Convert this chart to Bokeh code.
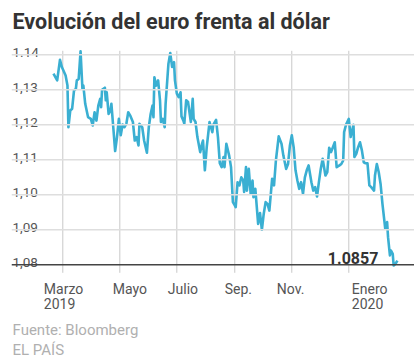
import numpy as np
import pandas as pd
from bokeh.plotting import figure
from bokeh.models import Range1d, Span
from bokeh.core.properties import value
from bokeh.embed import file_html
from bokeh.resources import INLINE

# ---------------- data ----------------
chart_title = "Evolución del euro frenta al dólar"
source_note = "Fuente: Bloomberg"
publisher = "EL PAÍS"
last_value_label = "1.0857"

base_date = "2019-03-01"
# days since 1 March 2019
day_offsets = [
    -10, -6, -3, -1, 3, 5, 6, 8, 10, 12, 14, 15, 17, 19, 21, 22, 24, 27, 30, 32,
    34, 36, 38, 40, 41, 42, 45, 46, 47, 49, 51, 52, 54, 56, 58, 60, 62, 64, 66, 68,
    70, 72, 75, 77, 79, 81, 82, 85, 87, 90, 92, 94, 96, 97, 98, 100, 102, 104, 105, 107,
    109, 110, 113, 115, 117, 119, 120, 122, 124, 126, 127, 129, 130, 132, 134, 137, 139, 140, 142, 144,
    147, 149, 150, 152, 154, 157,
    160, 161, 164, 166, 168, 170, 172, 173, 175, 178, 180, 182, 184, 185, 187, 189, 191, 193, 194, 196,
    197, 199, 201, 203, 204, 206, 209, 211, 213, 215, 217, 219, 221, 224, 226, 228, 231, 234, 236, 239,
    241, 243, 245, 247, 249, 251, 253, 255, 257, 259, 261, 263, 266, 268, 270, 272, 274, 276, 278, 281,
    283, 285, 287, 289, 291, 293, 296, 298, 300, 301, 303, 306, 308, 311, 312, 314, 316, 318, 320, 322,
    324, 326, 328, 330, 333, 334, 336, 338, 340, 342, 344, 345, 347, 348, 350, 351, 353, 354, 356, 358,
]
eur_usd = [
    1.1346, 1.1327, 1.1386, 1.1365, 1.1341, 1.1312, 1.1193, 1.1241, 1.1246, 1.1298,
    1.1303, 1.1327, 1.1331, 1.1410, 1.1303, 1.1312, 1.1260, 1.1222, 1.1217, 1.1198,
    1.1236, 1.1212, 1.1255, 1.1274, 1.1250, 1.1300, 1.1306, 1.1270, 1.1293, 1.1231,
    1.1241, 1.1260, 1.1193, 1.1125, 1.1165, 1.1217, 1.1170, 1.1201, 1.1193, 1.1203,
    1.1236, 1.1227, 1.1208, 1.1155, 1.1165, 1.1141, 1.1203, 1.1193, 1.1155, 1.1120,
    1.1193, 1.1231, 1.1255, 1.1222, 1.1336, 1.1312, 1.1327, 1.1270, 1.1208, 1.1217,
    1.1193, 1.1260, 1.1374, 1.1405, 1.1365, 1.1379, 1.1327, 1.1289, 1.1279, 1.1293,
    1.1224, 1.1212, 1.1203, 1.1270, 1.1265, 1.1208, 1.1274, 1.1217, 1.1208, 1.1165,
    1.1122, 1.1146, 1.1155, 1.1070, 1.1136, 1.1208,
    1.1179, 1.1200, 1.1214, 1.1165, 1.1090, 1.1079, 1.1108, 1.1079, 1.1146, 1.1112,
    1.1079, 1.0979, 1.0970, 1.0965, 1.1036, 1.1027, 1.1050, 1.1041, 1.1008, 1.1079,
    1.1012, 1.1074, 1.1003, 1.1041, 1.0993, 1.1017, 1.0917, 1.0948, 1.0900, 1.0946,
    1.0979, 1.0974, 1.0955, 1.1046, 1.1027, 1.1098, 1.1167, 1.1146, 1.1112, 1.1074,
    1.1088, 1.1141, 1.1170, 1.1136, 1.1070, 1.1041, 1.1017, 1.1036, 1.1003, 1.1050,
    1.1070, 1.1084, 1.1036, 1.1012, 1.1022, 1.0995, 1.1036, 1.1074, 1.1103, 1.1055,
    1.1065, 1.1134, 1.1122, 1.1136, 1.1150, 1.1079, 1.1084, 1.1088, 1.1098, 1.1179,
    1.1200, 1.1217, 1.1165, 1.1200, 1.1108, 1.1117, 1.1136, 1.1150, 1.1127, 1.1093,
    1.1090, 1.1090, 1.1027, 1.1022, 1.1012, 1.1055, 1.1088, 1.1065, 1.1031, 1.0974,
    1.0927, 1.0903, 1.0922, 1.0879, 1.0827, 1.0841, 1.0831, 1.0798, 1.0803, 1.0812,
]

y_ticks = [1.08, 1.09, 1.10, 1.11, 1.12, 1.13, 1.14]
y_tick_labels = ["1,08", "1,09", "1,10", "1,11", "1,12", "1,13", "1.14"]

x_tick_dates = ["2019-03-01", "2019-05-01", "2019-07-01", "2019-09-01", "2019-11-01", "2020-01-01"]
x_tick_months = ["Marzo", "Mayo", "Julio", "Sep.", "Nov.", "Enero"]
x_tick_years = ["2019", "", "", "", "", "2020"]

# ---------------- layout / style ----------------
W, H = 414, 359
FONT = value("Roboto")
LINE_COLOR = "#3aafd2"
PX_PER_DAY = 286.0 / 306.0       # horizontal scale
PX_PER_UNIT = 3500.0             # vertical scale (px per 1.0 of rate)
MARCH_X = 62.3                   # canvas x of 1 March 2019
AXIS_Y = 264.3                   # canvas y of the 1.08 baseline
LEFT_BORDER = 11

base = pd.Timestamp(base_date)
dates = [base + pd.Timedelta(days=d) for d in day_offsets]
tick_dates = [pd.Timestamp(d) for d in x_tick_dates]

x_start = base + pd.Timedelta(days=(LEFT_BORDER - MARCH_X) / PX_PER_DAY)
x_end = base + pd.Timedelta(days=(W - MARCH_X) / PX_PER_DAY)
y_end = y_ticks[0] + AXIS_Y / PX_PER_UNIT
y_start = y_ticks[0] - (H - AXIS_Y) / PX_PER_UNIT

p = figure(
    width=W, height=H,
    x_axis_type="datetime",
    x_axis_location=None, y_axis_location=None,
    x_range=Range1d(x_start, x_end), y_range=Range1d(y_start, y_end),
    output_backend="svg", toolbar_location=None,
    min_border_left=LEFT_BORDER, min_border_right=0,
    min_border_top=0, min_border_bottom=0,
)
p.grid.visible = False
p.outline_line_color = None
p.background_fill_color = "white"
p.border_fill_color = "white"

# horizontal grid lines
for yv in y_ticks[1:]:
    p.add_layout(Span(location=yv, dimension="width", line_color="#dedede", line_width=1.6))

# vertical grid lines with tick extension below the axis
n = len(tick_dates)
p.segment(x0=tick_dates, x1=tick_dates,
          y0=[y_ticks[0] - 8 / PX_PER_UNIT] * n,
          y1=[y_ticks[-1] + 4 / PX_PER_UNIT] * n,
          line_color="#c8c8c8", line_width=1)

# data line
p.line(x=dates, y=eur_usd, line_color=LINE_COLOR, line_width=2.6, line_join="round")

# baseline axis
p.add_layout(Span(location=y_ticks[0], dimension="width", line_color="#444444", line_width=1.6))

# y tick labels (above grid lines)
p.text(x=[x_start] * len(y_ticks), y=y_ticks, text=y_tick_labels,
       x_offset=1, y_offset=-2, text_baseline="alphabetic", text_align="left",
       text_font=FONT, text_font_size="13.5px", text_color="#555555")

# x tick labels
label_dx = [-19, -7, -9, -10, -15, 3]
p.text(x=tick_dates, y=[y_ticks[0]] * n, text=x_tick_months,
       x_offset=label_dx, y_offset=24,
       text_baseline="alphabetic", text_align="left",
       text_font=FONT, text_font_size="14px", text_color="#555555")
p.text(x=tick_dates, y=[y_ticks[0]] * n, text=x_tick_years,
       x_offset=label_dx, y_offset=39,
       text_baseline="alphabetic", text_align="left",
       text_font=FONT, text_font_size="14px", text_color="#555555")

# last value annotation
p.text(x=[dates[-1]], y=[y_ticks[0]], text=[last_value_label],
       x_offset=-19, y_offset=-6.5, text_baseline="alphabetic", text_align="right",
       text_font=FONT, text_font_style="bold", text_font_size="16px", text_color="#333333")

# title
p.text(x=[x_start], y=[y_end], text=[chart_title],
       x_offset=1, y_offset=21, text_baseline="alphabetic", text_align="left",
       text_font=FONT, text_font_style="bold", text_font_size="21.5px", text_color="#333333")

# source and publisher
p.text(x=[x_start, x_start], y=[y_start, y_start], text=[source_note, publisher],
       x_offset=1, y_offset=[-29.5, -9.5], text_baseline="alphabetic", text_align="left",
       text_font=FONT, text_font_size="15px", text_color="#b0b0b0")

open("out.html", "w").write(file_html(p, INLINE))
